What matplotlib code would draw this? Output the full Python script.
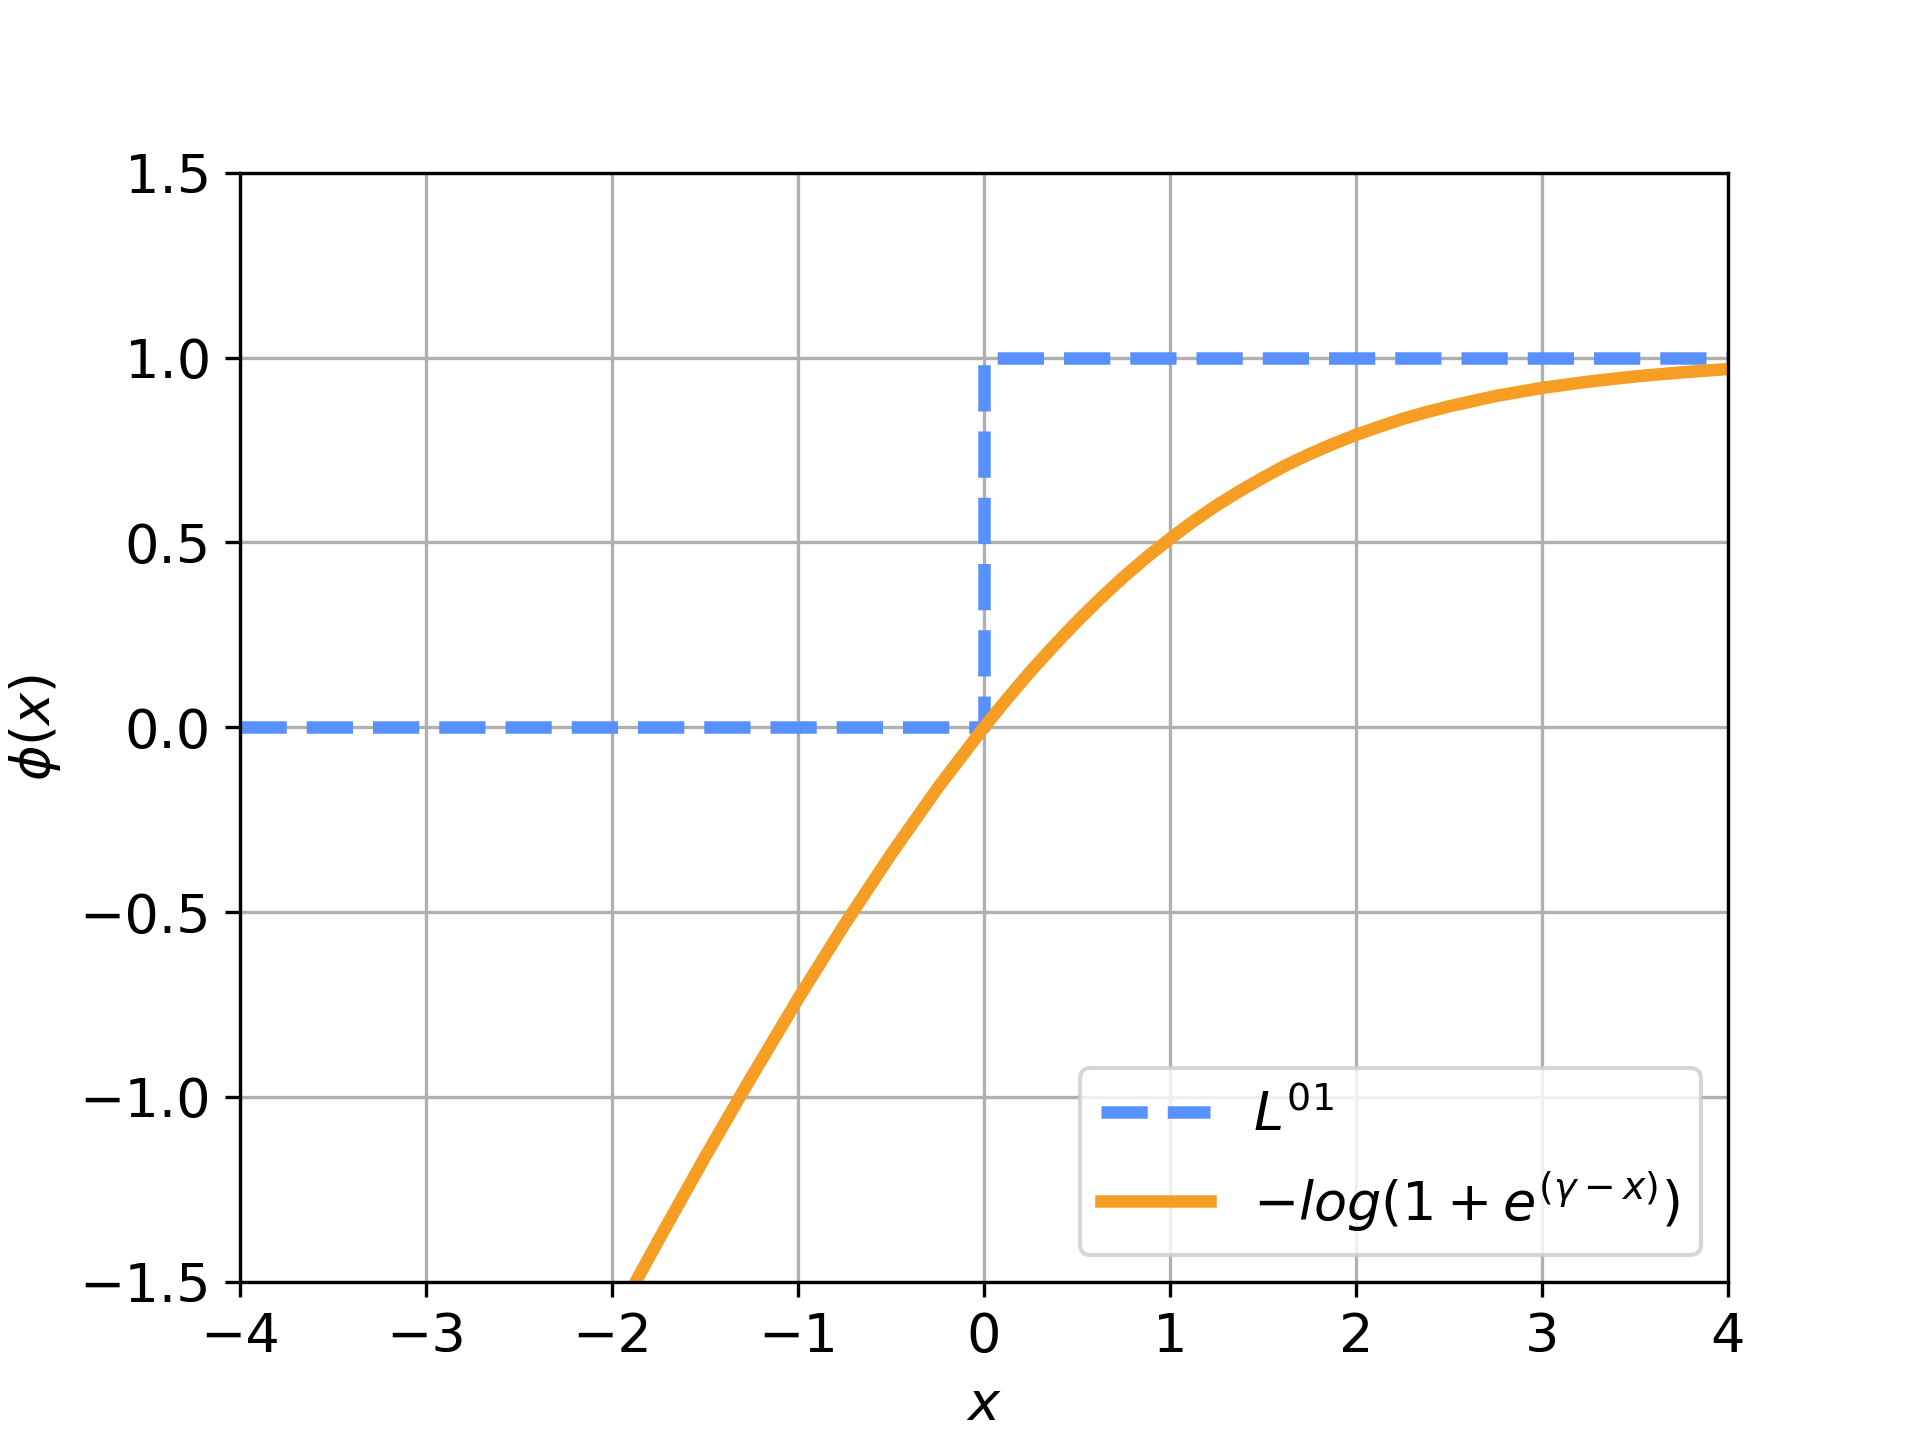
import matplotlib
matplotlib.use("Agg")
from matplotlib import pyplot

pyplot.rcParams["font.size"] = 13

# step function L^01
step_x = [-4, 0, 0, 4]
step_y = [0, 0, 1, 1]

# smooth curve, values
curve_x = [-2.0, -1.75, -1.5, -1.25, -1.0, -0.75, -0.5, -0.25, 0.0, 0.125, 0.25, 0.375,
           0.5, 0.625, 0.75, 0.875, 1.0, 1.125, 1.25, 1.375, 1.5, 1.625, 1.75, 1.875,
           2.0, 2.125, 2.25, 2.375, 2.5, 2.75, 3.0, 3.25, 3.5, 3.75, 4.0]
curve_y = [-1.617, -1.388, -1.163, -0.946, -0.735, -0.534, -0.344, -0.165, 0.0, 0.077,
           0.151, 0.220, 0.286, 0.348, 0.406, 0.460, 0.510, 0.557, 0.600, 0.639, 0.675,
           0.709, 0.739, 0.766, 0.791, 0.813, 0.834, 0.852, 0.868, 0.896, 0.918, 0.935,
           0.949, 0.960, 0.969]

x_ticks = [-4, -3, -2, -1, 0, 1, 2, 3, 4]
y_ticks = [-1.5, -1.0, -0.5, 0.0, 0.5, 1.0, 1.5]

fig, ax = pyplot.subplots(figsize=(6.4, 4.8), dpi=300)

ax.plot(step_x, step_y, "--", color="#5891fb", linewidth=3, label=r"$L^{01}$")
ax.plot(curve_x, curve_y, "-", color="#f59e23", linewidth=3,
        label=r"$-log(1+e^{(\gamma-x)})$")

ax.set_xlim(-4, 4)
ax.set_ylim(-1.5, 1.5)
ax.set_xticks(x_ticks)
ax.set_yticks(y_ticks)
ax.grid(True)
ax.set_xlabel(r"$x$")
ax.set_ylabel(r"$\phi(x)$")
ax.legend(loc="lower right")

pyplot.savefig("out.png", dpi=300)
